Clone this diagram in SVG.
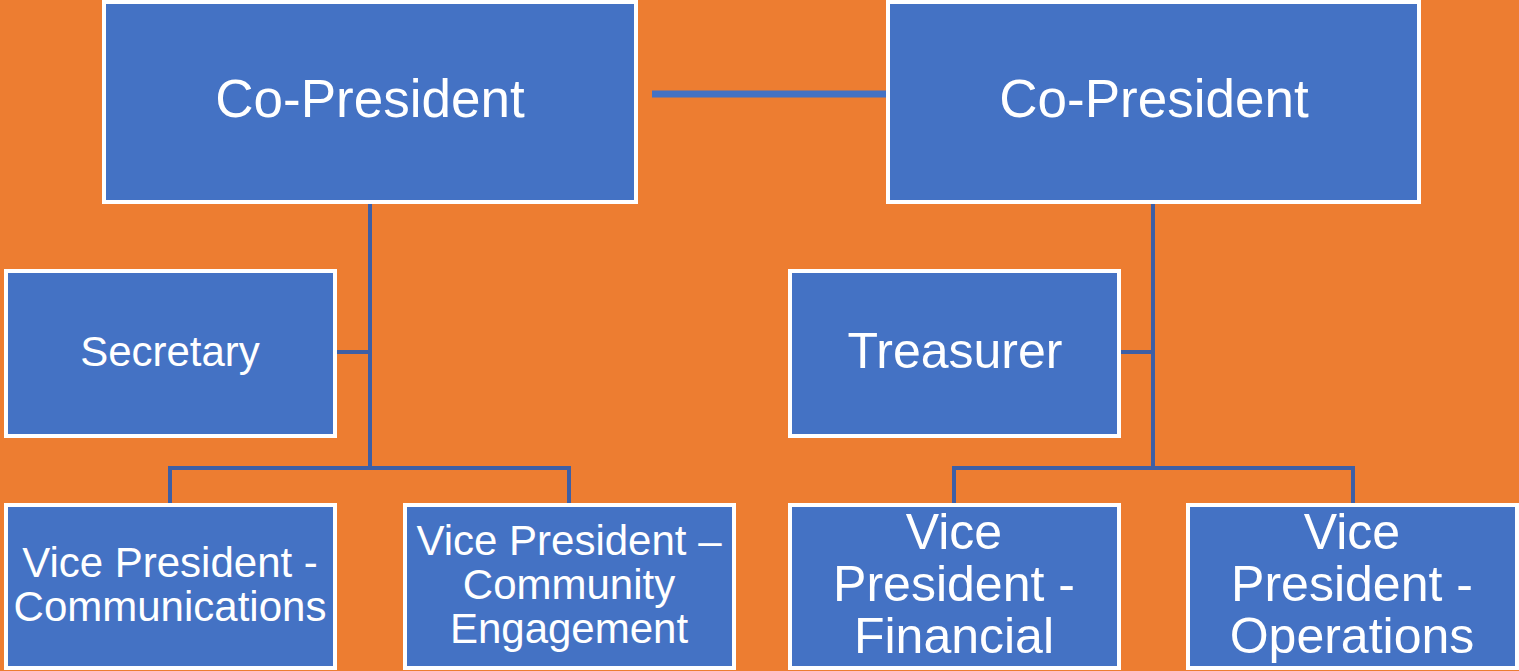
<svg xmlns="http://www.w3.org/2000/svg" width="1519" height="671" viewBox="0 0 1519 671">
<style>
.box{fill:#4472C4;stroke:#FFFFFF;stroke-width:4}
.t{fill:#FFFFFF;font-family:"Liberation Sans",Arial,sans-serif;text-anchor:middle}
.c{fill:none;stroke:#3D5FA6;stroke-width:4}
.p{fill:none;stroke:#4472C4;stroke-width:7}
</style>
<rect x="0" y="0" width="1519" height="671" fill="#ED7D31"/>
<g id="connectors">
<line class="p" x1="652" y1="94" x2="890" y2="94"/>
<path class="c" d="M370,203 V468 M337,352 H370 M170,504 V468 H569 V504"/>
<path class="c" d="M1153,203 V468 M1121,352 H1153 M954,504 V468 H1353 V504"/>
</g>
<g id="copres1"><rect class="box" x="104" y="2" width="532" height="200"/><text class="t" x="370" y="117" font-size="53">Co-President</text></g>
<g id="copres2"><rect class="box" x="888" y="2" width="531" height="200"/><text class="t" x="1154" y="117" font-size="53">Co-President</text></g>
<g id="secretary"><rect class="box" x="6" y="271" width="329" height="165"/><text class="t" x="170" y="366" font-size="42">Secretary</text></g>
<g id="treasurer"><rect class="box" x="790" y="271" width="329" height="165"/><text class="t" x="955" y="368" font-size="50">Treasurer</text></g>
<g id="vp-comm"><rect class="box" x="6" y="505" width="329" height="163"/><text class="t" x="170" y="577" font-size="42">Vice President -</text><text class="t" x="170" y="621" font-size="42">Communications</text></g>
<g id="vp-community"><rect class="box" x="405" y="505" width="329" height="163"/><text class="t" x="569" y="555" font-size="42">Vice President –</text><text class="t" x="569" y="599" font-size="42">Community</text><text class="t" x="569" y="643" font-size="42">Engagement</text></g>
<g id="vp-fin"><rect class="box" x="790" y="505" width="329" height="163"/><text class="t" x="954" y="549" font-size="50">Vice</text><text class="t" x="954" y="601" font-size="50">President -</text><text class="t" x="954" y="653" font-size="50">Financial</text></g>
<g id="vp-ops"><rect class="box" x="1188" y="505" width="329" height="163"/><text class="t" x="1352" y="549" font-size="50">Vice</text><text class="t" x="1352" y="601" font-size="50">President -</text><text class="t" x="1352" y="653" font-size="50">Operations</text></g>
</svg>
